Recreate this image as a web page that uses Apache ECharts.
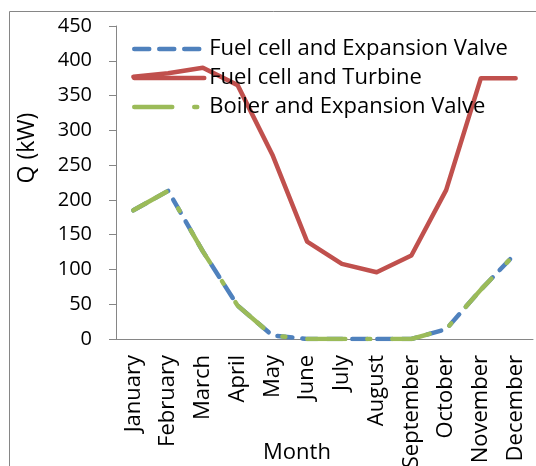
<!DOCTYPE html>
<html><head><meta charset="utf-8">
<script src="https://cdn.jsdelivr.net/npm/echarts@6/dist/echarts.min.js"></script>
<style>html,body{margin:0;padding:0;background:#fff}#c{width:536px;height:466px}</style>
</head><body><div id="c"></div>
<script>
const months = ["January","February","March","April","May","June","July","August","September","October","November","December"];
const seriesNames = ["Fuel cell and Expansion Valve","Fuel cell and Turbine","Boiler and Expansion Valve"];
const fcExpansion = [185, 213, 126, 48, 5, 0, 0, 0, 0, 14, 71, 123];
const fcTurbine = [377, 382, 390, 365, 265, 140, 108, 96, 120, 214, 375, 375];
const boilerExpansion = [185, 213, 126, 48, 5, 0, 0, 0, 0, 14, 71, 123];
const yTicks = [0, 50, 100, 150, 200, 250, 300, 350, 400, 450];

const FONT = 'Open Sans';
const FS_NUM = 20;
const FS_TXT = 22;
const LW = 4.5;
const chart = echarts.init(document.getElementById('c'), null, {renderer:'canvas'});
chart.setOption({
  animation:false,
  backgroundColor:'#fff',
  grid:{left:116, right:3, top:26, bottom:127, containLabel:false, outerBoundsMode:'none'},
  legend:{
    orient:'vertical', left:132, top:38, padding:0, itemWidth:70, itemHeight:14, itemGap:7,
    textStyle:{fontFamily:FONT, fontSize:FS_TXT, color:'#000'},
    itemStyle:{opacity:0, borderWidth:0},
    lineStyle:{width:LW},
    data:seriesNames
  },
  xAxis:{
    type:'category', data:months, boundaryGap:true,
    axisLine:{lineStyle:{color:'#868686', width:1}},
    axisTick:{show:false},
    axisLabel:{rotate:90, margin:16, fontFamily:FONT, fontSize:FS_TXT, color:'#000', interval:0}
  },
  yAxis:{
    type:'value', min:yTicks[0], max:yTicks[yTicks.length-1], interval:50,
    splitLine:{show:false},
    axisLine:{show:true, lineStyle:{color:'#868686', width:1}},
    axisTick:{show:true, length:7, lineStyle:{color:'#868686'}},
    axisLabel:{margin:24, fontFamily:FONT, fontSize:FS_NUM, color:'#000'}
  },
  graphic:[
    {type:'rect', shape:{x:9.5, y:11.5, width:600, height:600}, style:{fill:null, stroke:'#868686', lineWidth:1}, silent:true, z:-10},
    {type:'text', x:27, y:148, rotation:Math.PI/2, style:{text:'Q (kW)', font:'23px "'+FONT+'"', fill:'#000', textAlign:'center', textVerticalAlign:'middle'}},
    {type:'text', x:297, y:453, style:{text:'Month', font:FS_TXT+'px "'+FONT+'"', fill:'#000', textAlign:'center', textVerticalAlign:'middle'}}
  ],
  series:[
    {name:seriesNames[0], type:'line', data:fcExpansion, symbol:'none', z:2,
     itemStyle:{color:'#4F81BD'},
     lineStyle:{color:'#4F81BD', width:LW, type:[15,10], cap:'round', join:'round'}},
    {name:seriesNames[1], type:'line', data:fcTurbine, symbol:'none', z:2,
     itemStyle:{color:'#C0504D'},
     lineStyle:{color:'#C0504D', width:LW, type:'solid', cap:'round', join:'round'}},
    {name:seriesNames[2], type:'line', data:boilerExpansion, symbol:'none', z:3,
     itemStyle:{color:'#9BBB59'},
     lineStyle:{color:'#9BBB59', width:LW, type:[38,22,3,22], cap:'round', join:'round'}}
  ]
});
</script></body></html>
